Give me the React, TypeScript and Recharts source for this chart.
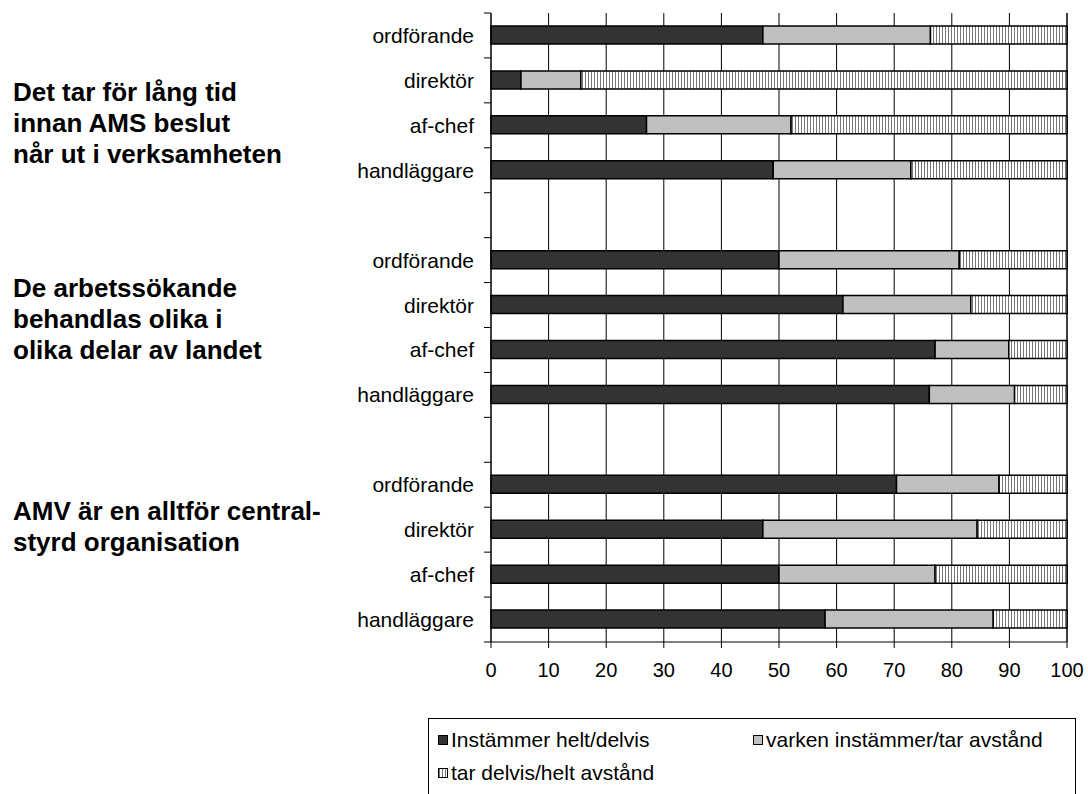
import { BarChart, Bar, XAxis, YAxis, CartesianGrid, Legend } from 'recharts';

// statements (one group of bars each) and the respondent roles
const STATEMENTS = [
  ['Det tar för lång tid', 'innan AMS beslut', 'når ut i verksamheten'],
  ['De arbetssökande', 'behandlas olika i', 'olika delar av landet'],
  ['AMV är en alltför central-', 'styrd organisation'],
];
const ROLES = ['ordförande', 'direktör', 'af-chef', 'handläggare'];

// percent per role, one inner list per statement
const AGREE = [
  [47.2, 5.2, 27.0, 49.0],
  [50.0, 61.1, 77.1, 76.1],
  [70.4, 47.2, 50.0, 58.0],
];
const NEUTRAL = [
  [29.1, 10.4, 25.1, 23.9],
  [31.3, 22.2, 12.8, 14.8],
  [17.8, 37.2, 27.1, 29.2],
];
const DISAGREE = [
  [23.7, 84.4, 47.9, 27.1],
  [18.7, 16.7, 10.1, 9.1],
  [11.8, 15.6, 22.9, 12.8],
];

const X_TICKS = [0, 10, 20, 30, 40, 50, 60, 70, 80, 90, 100];

const SERIES = [
  { key: 'agree', name: 'Instämmer helt/delvis', fill: '#333333', swatch: '#333333' },
  { key: 'neutral', name: 'varken instämmer/tar avstånd', fill: '#c0c0c0', swatch: '#c0c0c0' },
  {
    key: 'disagree',
    name: 'tar delvis/helt avstånd',
    fill: 'url(#stripes)',
    swatch: 'repeating-linear-gradient(90deg, #777 0 1px, #fff 1px 3px)',
  },
];

type Row = { key: string; label: string; agree?: number; neutral?: number; disagree?: number };

const rows: Row[] = [];
STATEMENTS.forEach((_, g) => {
  if (g > 0) rows.push({ key: `gap-${g}`, label: '' });
  ROLES.forEach((role, r) => {
    rows.push({
      key: `${g}-${role}`,
      label: role,
      agree: AGREE[g][r],
      neutral: NEUTRAL[g][r],
      disagree: DISAGREE[g][r],
    });
  });
});

const TICK_SIZE = 7;
const TICK_MARGIN = 10;
const FONT = '"Liberation Sans", Arial, sans-serif';

function RoleTick(props: any) {
  const { x, y, payload, index } = props;
  const half = payload?.offset ?? 0;
  const axisX = x + TICK_MARGIN + TICK_SIZE;
  const row = rows[index];
  return (
    <g>
      <line x1={axisX - TICK_SIZE} x2={axisX} y1={y - half} y2={y - half} stroke="#000" />
      {index === rows.length - 1 && (
        <line x1={axisX - TICK_SIZE} x2={axisX} y1={y + half} y2={y + half} stroke="#000" />
      )}
      <text x={x} y={y} textAnchor="end" dominantBaseline="central" fontSize={21} fill="#000">
        {row ? row.label : ''}
      </text>
    </g>
  );
}

function LegendBox() {
  return (
    <div
      style={{
        position: 'relative',
        width: 648,
        height: 100,
        border: '1px solid #000',
        boxSizing: 'border-box',
        background: '#fff',
        fontFamily: FONT,
        fontSize: 21,
        color: '#000',
      }}
    >
      {SERIES.map((s, i) => (
        <div
          key={s.key}
          style={{
            position: 'absolute',
            left: (i % 2) * 315 + 9,
            top: Math.floor(i / 2) * 33 + 10,
            height: 22,
            display: 'flex',
            alignItems: 'center',
            whiteSpace: 'nowrap',
          }}
        >
          <span
            style={{
              display: 'inline-block',
              width: 8,
              height: 8,
              border: '1px solid #000',
              background: s.swatch,
              marginRight: 3,
            }}
          />
          {s.name}
        </div>
      ))}
    </div>
  );
}

const LABEL_TOPS = [77, 273, 496];

export default function App() {
  return (
    <div
      style={{
        position: 'fixed',
        left: 0,
        top: 0,
        width: 1088,
        height: 794,
        overflow: 'hidden',
        background: '#fff',
        fontFamily: FONT,
      }}
    >
      {STATEMENTS.map((lines, g) => (
        <div
          key={g}
          style={{
            position: 'absolute',
            left: 13,
            top: LABEL_TOPS[g],
            fontWeight: 'bold',
            fontSize: 26,
            lineHeight: '31px',
            color: '#000',
            whiteSpace: 'nowrap',
          }}
        >
          {lines.map((l) => (
            <div key={l}>{l}</div>
          ))}
        </div>
      ))}
      <BarChart
        width={1088}
        height={794}
        data={rows}
        layout="vertical"
        barSize={18}
        margin={{ top: 13, right: 21, left: 0, bottom: 112 }}
      >
        <defs>
          <pattern id="stripes" width={3} height={4} patternUnits="userSpaceOnUse">
            <rect width={3} height={4} fill="#fff" />
            <rect width={1} height={4} fill="#777" />
          </pattern>
        </defs>
        <CartesianGrid horizontal={false} stroke="#000" strokeWidth={1} />
        <XAxis
          type="number"
          domain={[0, 100]}
          ticks={X_TICKS}
          interval={0}
          height={40}
          tickSize={6}
          tickMargin={15}
          axisLine={{ stroke: '#000' }}
          tickLine={{ stroke: '#000' }}
          tick={{ fontSize: 20, fill: '#000' }}
        />
        <XAxis
          xAxisId="top"
          orientation="top"
          type="number"
          domain={[0, 100]}
          height={0}
          tick={false}
          tickLine={false}
          axisLine={{ stroke: '#999' }}
        />
        <YAxis
          type="category"
          dataKey="key"
          width={491}
          interval={0}
          tickSize={TICK_SIZE}
          tickMargin={TICK_MARGIN}
          tickLine={false}
          axisLine={{ stroke: '#000' }}
          tick={<RoleTick />}
        />
        <YAxis
          yAxisId="right"
          orientation="right"
          type="category"
          dataKey="key"
          width={0}
          tick={false}
          tickLine={false}
          axisLine={{ stroke: '#999' }}
        />
        {SERIES.map((s) => (
          <Bar
            key={s.key}
            dataKey={s.key}
            name={s.name}
            stackId="a"
            fill={s.fill}
            stroke="#000"
            strokeWidth={1.5}
            isAnimationActive={false}
          />
        ))}
        <Legend
          layout="horizontal"
          verticalAlign="middle"
          align="center"
          wrapperStyle={{ left: 428, top: 718, width: 648 }}
          content={() => <LegendBox />}
        />
      </BarChart>
    </div>
  );
}
